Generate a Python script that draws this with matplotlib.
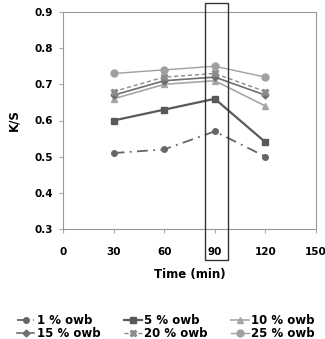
import matplotlib
matplotlib.use("Agg")
import matplotlib.pyplot as plt
from matplotlib.patches import Rectangle

times = [30, 60, 90, 120]
labels = ["1 % owb", "5 % owb", "10 % owb", "15 % owb", "20 % owb", "25 % owb"]
s1 = [0.51, 0.52, 0.57, 0.50]
s5 = [0.60, 0.63, 0.66, 0.54]
s10 = [0.66, 0.70, 0.71, 0.64]
s15 = [0.67, 0.71, 0.72, 0.67]
s20 = [0.68, 0.72, 0.73, 0.68]
s25 = [0.73, 0.74, 0.75, 0.72]
xticks = [0, 30, 60, 90, 120, 150]
yticks = [0.3, 0.4, 0.5, 0.6, 0.7, 0.8, 0.9]

fig = plt.figure(figsize=(3.25, 3.39), dpi=100)
ax = fig.add_axes([63/325, 1 - 229/339, (316-63)/325, (229-12)/339])

styles = [
    dict(color="#666666", ls=(0, (6, 3, 1, 3)), marker="o", ms=4, lw=1.3),
    dict(color="#595959", ls="-", marker="s", ms=5, lw=1.6),
    dict(color="#a6a6a6", ls="-", marker="^", ms=5, lw=1.2),
    dict(color="#6e6e6e", ls="-", marker="D", ms=3.5, lw=1.2),
    dict(color="#8c8c8c", ls=(0, (3, 2)), marker="X", ms=4.5, lw=1.0),
    dict(color="#a0a0a0", ls="-", marker="o", ms=5, lw=1.0),
]
series = [s1, s5, s10, s15, s20, s25]
handles = []
for s, lab, st in zip(series, labels, styles):
    h, = ax.plot(times, s, label=lab, color=st["color"], linestyle=st["ls"],
                 marker=st["marker"], markersize=st["ms"], linewidth=st["lw"])
    handles.append(h)

ax.set_xlim(0, 150)
ax.set_ylim(0.3, 0.9)
ax.set_xticks(xticks)
ax.set_yticks(yticks)
ax.set_yticklabels(["0.3", "0.4", "0.5", "0.6", "0.7", "0.8", "0.9"])
for lab in ax.get_xticklabels() + ax.get_yticklabels():
    lab.set_fontweight("bold")
    lab.set_fontsize(7.5)
ax.tick_params(axis="x", direction="out", length=3, color="#aaaaaa", pad=10)
ax.tick_params(axis="y", direction="out", length=3, color="#aaaaaa", pad=4)
for sp in ax.spines.values():
    sp.set_color("#999999")
    sp.set_linewidth(0.8)

ax.set_xlabel("Time (min)", fontweight="bold", fontsize=8.5, labelpad=8)
ax.set_ylabel("K/S", fontweight="bold", fontsize=8.5, labelpad=10)

# highlight rectangle around 90 min (extends beyond axes)
rect = Rectangle((205/325, 1 - 260/339), (228-205)/325, (260-3)/339,
                 transform=fig.transFigure, fill=False, edgecolor="#333333",
                 linewidth=1.0, clip_on=False)
fig.patches.append(rect)

# legend filled row-wise: reorder for matplotlib's column-wise fill
order = [0, 3, 1, 4, 2, 5]
fig.legend(handles=[handles[i] for i in order], loc="lower center", ncol=3,
           frameon=False, bbox_to_anchor=(0.51, -0.035), handlelength=1.5,
           handletextpad=0.2, columnspacing=2.0, labelspacing=0.05,
           prop=dict(weight="bold", size=8.5))

fig.savefig("out.png", dpi=100)
